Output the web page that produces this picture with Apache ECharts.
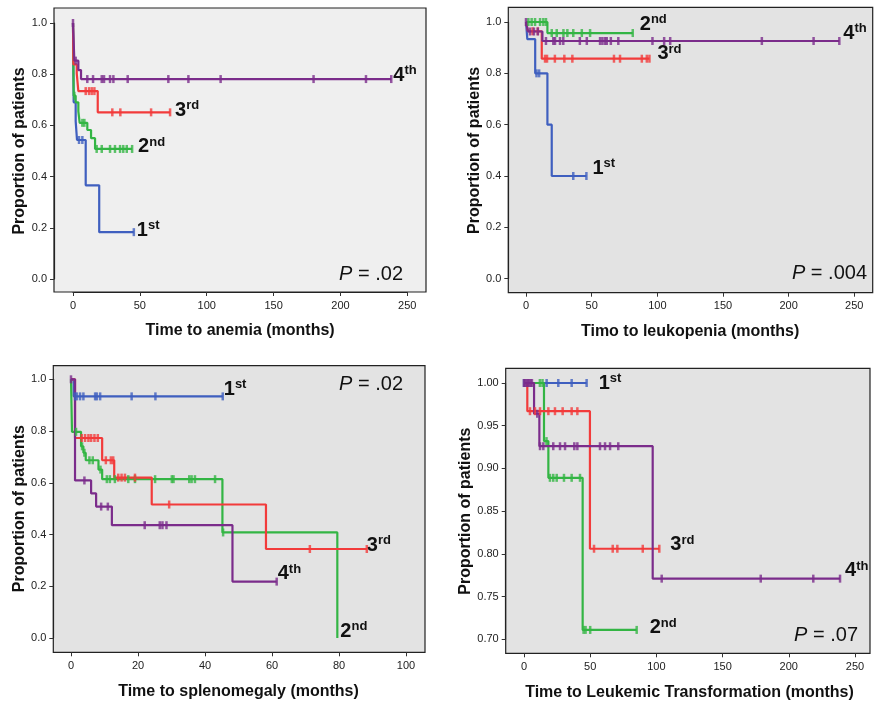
<!DOCTYPE html>
<html>
<head>
<meta charset="utf-8">
<script src="https://cdn.jsdelivr.net/npm/echarts@6/dist/echarts.min.js"></script>
<style>
html, body { margin: 0; padding: 0; background: #fff; }
#chart { width: 876px; height: 702px; }
</style>
</head>
<body>
<div id="chart"></div>
<script>
"use strict";
// ---- 数据: 每条曲线 [月份, 比例] 下降点 + 删失时间 ----

// 贫血
var anemia1st = [[0, 1], [0.5, 0.69], [2, 0.617], [3, 0.543], [9.5, 0.366], [19.6, 0.183]];
var anemia1stCens = [4.5, 7, 45.5];
var anemia2nd = [[0, 1], [0.5, 0.716], [2, 0.69], [4, 0.655], [5, 0.61], [10.7, 0.582], [13.5, 0.55], [16.5, 0.508]];
var anemia2ndCens = [1, 7, 8.5, 17.7, 21.5, 27.7, 31.4, 35.2, 37.6, 40.2, 44.2];
var anemia3rd = [[0, 1], [0.3, 0.838], [2.8, 0.803], [4, 0.734], [18.5, 0.651]];
var anemia3rdCens = [9.5, 12, 14, 16, 29.4, 35.4, 58.4, 72.6];
var anemia4th = [[0, 1], [1, 0.853], [4, 0.816], [6, 0.781]];
var anemia4thCens = [0, 2, 10.7, 15, 21.5, 23.2, 27.7, 30.2, 40.9, 71.3, 86.3, 110.4, 179.9, 219.1, 238];

// 白细胞减少
var leuko1st = [[0, 1], [1, 0.933], [7, 0.8], [16.3, 0.6], [19.6, 0.4]];
var leuko1stCens = [8, 10, 36, 46];
var leuko2nd = [[0, 1], [16.3, 0.957]];
var leuko2ndCens = [1.8, 4.3, 6.9, 10.7, 13.2, 15.2, 19.6, 23.4, 28.5, 31.5, 36, 42.5, 48.8, 81.3];
var leuko3rd = [[0, 1], [1.5, 0.964], [12, 0.857]];
var leuko3rdCens = [5, 9, 14.5, 16, 22, 29.2, 35.3, 67, 71.6, 88.2, 92, 94];
var leuko4th = [[0, 1], [1.5, 0.963], [12.5, 0.926]];
var leuko4thCens = [0, 3, 6, 9, 15.2, 20.8, 22.1, 25.9, 28.4, 41, 46.3, 56.4, 58.2, 60.2, 61.5, 64.6, 70.3,
    96.3, 105.2, 109.8, 179.6, 219, 238.6];

// 脾肿大
var spleno1st = [[0, 1], [0.8, 0.934]];
var spleno1stCens = [1.2, 1.7, 2.7, 3.7, 7.2, 7.7, 8.7, 18.1, 25.2, 45.3];
var spleno2nd = [[0, 1], [0.3, 0.797], [3, 0.741], [3.7, 0.716], [4.4, 0.687], [8.2, 0.651], [9.3, 0.614],
    [45.2, 0.408], [79.5, 0]];
var spleno2ndCens = [1.5, 3.3, 4, 5.5, 6.5, 8.8, 10.7, 11.6, 13.1, 17.1, 19.1, 25.1, 30.1, 30.6, 35.3, 36, 37, 43, 45.4];
var spleno3rd = [[0, 1], [1.2, 0.773], [9.3, 0.687], [12.9, 0.62], [24.1, 0.516], [58.2, 0.344]];
var spleno3rdCens = [3.2, 4.2, 5.2, 6, 7, 8, 10.4, 11.9, 12.6, 14.1, 15.1, 16.1, 19.1, 29.3, 71.3, 88.3];
var spleno4th = [[0, 1], [1.2, 0.609], [6, 0.559], [7.5, 0.508], [12.2, 0.436], [48.2, 0.218]];
var spleno4thCens = [0, 4, 9, 11, 22, 26.5, 27.3, 28.5, 61.4];

// 白血病转化
var transf1st = [[0, 1]];
var transf1stCens = [0, 17.1, 25.9, 36, 47.3];
var transf2nd = [[0, 1], [15.1, 0.932], [18.4, 0.889], [44.3, 0.711]];
var transf2ndCens = [12, 14, 17, 19.6, 22.1, 24.7, 30.2, 36, 42.3, 45, 46.5, 50, 85.1];
var transf3rd = [[0, 1], [2.5, 0.967], [49.8, 0.806]];
var transf3rdCens = [4.5, 8.3, 12.1, 18.4, 23.4, 29.2, 36, 40.3, 52.9, 67, 70.5, 89.7, 102.2];
var transf4th = [[0, 1], [7.6, 0.964], [11.6, 0.926], [97.2, 0.771]];
var transf4thCens = [0, 1, 2, 3, 4, 5, 6, 10, 12.1, 14.6, 22.1, 27.2, 31, 38, 40.3, 57.4, 61.2, 65, 71.2,
    104, 178.8, 218.5, 238.7];

var groupNames = ['1st', '2nd', '3rd', '4th'];
var pValues = ['.02', '.004', '.02', '.07'];
var xTitles = ['Time to anemia (months)', 'Timo to leukopenia (months)',
    'Time to splenomegaly (months)', 'Time to Leukemic Transformation (months)'];

var colors = ['#3f5fbf', '#33b544', '#f23b3b', '#7b2c8b'];
var FONT = '"Liberation Sans", Arial, sans-serif';

/** 面板布局 */
var panels = [
    {
        curves: [[anemia1st, anemia1stCens], [anemia2nd, anemia2ndCens], [anemia3rd, anemia3rdCens], [anemia4th, anemia4thCens]],
        grid: {left: 73, top: 23, width: 334.3, height: 256},
        box: {x: 54, y: 8, w: 372, h: 284}, bg: '#efefef',
        xMax: 250, xInt: 50, yMin: 0, yInt: 0.2, digits: 1, yGap: 23,
        labelOff: [[3, -2], [6, -2], [5, -2], [2, -4]],
        pPos: [403, 274]
    },
    {
        curves: [[leuko1st, leuko1stCens], [leuko2nd, leuko2ndCens], [leuko3rd, leuko3rdCens], [leuko4th, leuko4thCens]],
        grid: {left: 526, top: 22, width: 328.3, height: 256.7},
        box: {x: 508.3, y: 7.3, w: 364.4, h: 285.4}, bg: '#e3e3e3',
        xMax: 250, xInt: 50, yMin: 0, yInt: 0.2, digits: 1, yGap: 23,
        labelOff: [[6, -8], [7, -9], [8, -5], [4, -8]],
        pPos: [867, 273]
    },
    {
        curves: [[spleno1st, spleno1stCens], [spleno2nd, spleno2ndCens], [spleno3rd, spleno3rdCens], [spleno4th, spleno4thCens]],
        grid: {left: 71, top: 379.3, width: 335, height: 258.7},
        box: {x: 53.3, y: 365.7, w: 371.7, h: 286.6}, bg: '#e3e3e3',
        xMax: 100, xInt: 20, yMin: 0, yInt: 0.2, digits: 1, yGap: 24,
        labelOff: [[1, -7], [3, -7], [0, -4], [1, -8]],
        pPos: [403, 384]
    },
    {
        curves: [[transf1st, transf1stCens], [transf2nd, transf2ndCens], [transf3rd, transf3rdCens], [transf4th, transf4thCens]],
        grid: {left: 524, top: 383, width: 331, height: 256.3},
        box: {x: 505.7, y: 368.3, w: 364.3, h: 285}, bg: '#e3e3e3',
        xMax: 250, xInt: 50, yMin: 0.7, yInt: 0.05, digits: 2, yGap: 31,
        labelOff: [[12, 0], [13, -2], [11, -4], [5, -8]],
        pPos: [858, 635]
    }
];

// 阶梯曲线在 t 时刻的值
function valueAt(steps, t) {
    var s = steps[0][1];
    for (var i = 0; i < steps.length; i++) {
        if (steps[i][0] <= t) s = steps[i][1];
    }
    return s;
}

// 曲线延伸到最后一个删失点
function lineData(steps, cens) {
    var d = steps.slice();
    var lastStep = steps[steps.length - 1];
    var last = cens.length ? cens[cens.length - 1] : 0;
    if (last > lastStep[0]) d.push([last, lastStep[1]]);
    return d;
}

var grids = [], xAxes = [], yAxes = [], series = [], graphics = [];

for (var k = 0; k < panels.length; k++) {
    var p = panels[k];
    var g = p.grid, b = p.box;
    grids.push({left: g.left, top: g.top, width: g.width, height: g.height, containLabel: false});

    graphics.push({
        type: 'rect', z: -10,
        shape: {x: b.x, y: b.y, width: b.w, height: b.h},
        style: {fill: p.bg, stroke: '#222', lineWidth: 1.2}
    });

    xAxes.push({
        gridIndex: k, type: 'value', min: 0, max: p.xMax, interval: p.xInt,
        offset: (b.y + b.h) - (g.top + g.height),
        axisLine: {show: true, onZero: false, lineStyle: {color: '#222', width: 1.2}},
        axisTick: {show: true, length: 4, lineStyle: {color: '#333'}},
        splitLine: {show: false},
        axisLabel: {color: '#222', fontSize: 11, margin: 8, fontFamily: FONT},
        name: xTitles[k], nameLocation: 'middle', nameGap: 31,
        nameTextStyle: {fontSize: 16, fontWeight: 'bold', color: '#111', fontFamily: FONT}
    });

    (function (digits) {
        yAxes.push({
            gridIndex: k, type: 'value', min: p.yMin, max: 1, interval: p.yInt,
            offset: g.left - b.x,
            axisLine: {show: true, onZero: false, lineStyle: {color: '#222', width: 1.2}},
            axisTick: {show: true, length: 4, lineStyle: {color: '#333'}},
            splitLine: {show: false},
            axisLabel: {
                color: '#222', fontSize: 11, margin: 7, fontFamily: FONT,
                formatter: function (v) { return v.toFixed(digits); }
            },
            name: 'Proportion of patients', nameLocation: 'middle', nameGap: p.yGap, nameRotate: 90,
            nameTextStyle: {fontSize: 16, fontWeight: 'bold', color: '#111', fontFamily: FONT}
        });
    })(p.digits);

    for (var c = 0; c < 4; c++) {
        var steps = p.curves[c][0], cens = p.curves[c][1];
        var num = groupNames[c].charAt(0), suf = groupNames[c].substring(1);
        series.push({
            type: 'line', xAxisIndex: k, yAxisIndex: k,
            data: lineData(steps, cens), step: 'end',
            symbol: 'none', showSymbol: false, clip: false, silent: true,
            lineStyle: {width: 2.2, color: colors[c]},
            itemStyle: {color: colors[c]},
            endLabel: {
                show: true, distance: 0, offset: p.labelOff[c],
                formatter: '{n|' + num + '}{s|' + suf + '}',
                rich: {
                    n: {fontSize: 20, fontWeight: 'bold', color: '#111', fontFamily: FONT, lineHeight: 22},
                    s: {fontSize: 13, fontWeight: 'bold', color: '#111', fontFamily: FONT, verticalAlign: 'top', lineHeight: 14}
                }
            },
            z: 2
        });
        series.push({
            type: 'scatter', xAxisIndex: k, yAxisIndex: k,
            data: cens.map(function (t) { return [t, valueAt(steps, t)]; }),
            symbol: 'rect', symbolSize: [2.5, 8], clip: false, silent: true,
            itemStyle: {color: colors[c]},
            z: 3
        });
    }

    graphics.push({
        type: 'text', x: p.pPos[0], y: p.pPos[1],
        style: {
            text: '{i|P}{n| = ' + pValues[k] + '}',
            align: 'right', verticalAlign: 'middle',
            rich: {
                i: {fontSize: 20, fontStyle: 'italic', fill: '#111', fontFamily: FONT},
                n: {fontSize: 20, fill: '#111', fontFamily: FONT}
            }
        }
    });
}

var chart = echarts.init(document.getElementById('chart'));
chart.setOption({
    animation: false,
    backgroundColor: '#fff',
    grid: grids,
    xAxis: xAxes,
    yAxis: yAxes,
    series: series,
    graphic: graphics
});
</script>
</body>
</html>
